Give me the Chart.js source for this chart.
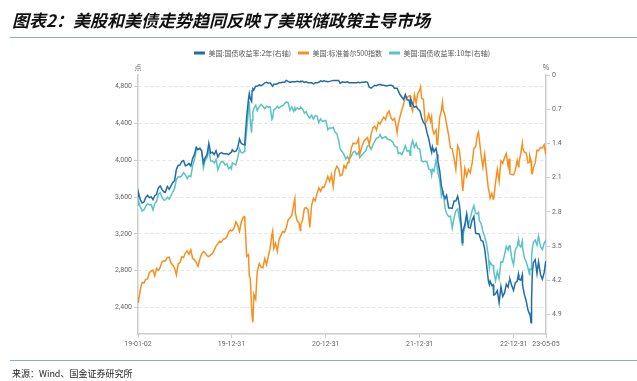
<!DOCTYPE html>
<html lang="zh">
<head>
<meta charset="utf-8">
<script src="https://cdn.jsdelivr.net/npm/chart.js@4.4.1/dist/chart.umd.min.js"></script>
<style>
  html, body { margin: 0; padding: 0; background: #fff; }
  body { width: 637px; height: 381px; position: relative; overflow: hidden; }
  #chart { position: absolute; left: 0; top: 0; }
  #title { position: absolute; left: 12px; top: 8px; font: italic bold 17px/24px "Noto Sans CJK SC", sans-serif; color: #111; white-space: nowrap; }
  .rule { position: absolute; left: 10px; right: 0; border-top: 1.5px solid #90adc3; }
  #rule-top    { top: 37px; }
  #rule-bottom { top: 360px; }
  #source { position: absolute; left: 12px; top: 367px; font: 9px/14px "Noto Sans CJK SC", sans-serif; color: #222; white-space: nowrap; }
</style>
</head>
<body>
<canvas id="chart" width="637" height="381"></canvas>
<div id="title">图表2：美股和美债走势趋同反映了美联储政策主导市场</div>
<div class="rule" id="rule-top"></div>
<div class="rule" id="rule-bottom"></div>
<div id="source">来源：Wind、国金证券研究所</div>

<script>
/* ─── DATA ────────────────────────────────────────────────── */
const dates = [
  // 2019
  '2019-01-02','2019-01-03','2019-01-11','2019-01-18','2019-01-25','2019-02-01','2019-02-08','2019-02-15','2019-02-22','2019-03-01',
  '2019-03-08','2019-03-15','2019-03-22','2019-03-29','2019-04-05','2019-04-12','2019-04-18','2019-04-26','2019-05-03','2019-05-10',
  '2019-05-17','2019-05-24','2019-05-31','2019-06-07','2019-06-14','2019-06-21','2019-06-28','2019-07-05','2019-07-12','2019-07-19',
  '2019-07-26','2019-08-02','2019-08-09','2019-08-16','2019-08-23','2019-08-30','2019-09-06','2019-09-13','2019-09-20','2019-09-27',
  '2019-10-04','2019-10-11','2019-10-18','2019-10-25','2019-11-01','2019-11-08','2019-11-15','2019-11-22','2019-11-29','2019-12-06',
  '2019-12-13','2019-12-20','2019-12-27','2019-12-31',
  // 2020
  '2020-01-03','2020-01-10','2020-01-17','2020-01-24','2020-01-31','2020-02-07','2020-02-14','2020-02-19','2020-02-21','2020-02-28',
  '2020-03-06','2020-03-09','2020-03-13','2020-03-18','2020-03-20','2020-03-23','2020-03-27','2020-04-03','2020-04-09','2020-04-17',
  '2020-04-24','2020-05-01','2020-05-08','2020-05-15','2020-05-22','2020-05-29','2020-06-05','2020-06-08','2020-06-12','2020-06-19',
  '2020-06-26','2020-07-02','2020-07-10','2020-07-17','2020-07-24','2020-07-31','2020-08-07','2020-08-14','2020-08-21','2020-08-28',
  '2020-09-02','2020-09-04','2020-09-11','2020-09-18','2020-09-23','2020-09-25','2020-10-02','2020-10-09','2020-10-16','2020-10-23',
  '2020-10-30','2020-11-06','2020-11-13','2020-11-20','2020-11-27','2020-12-04','2020-12-11','2020-12-18','2020-12-24','2020-12-31',
  // 2021
  '2021-01-08','2021-01-15','2021-01-22','2021-01-29','2021-02-05','2021-02-12','2021-02-19','2021-02-25','2021-03-05','2021-03-12',
  '2021-03-19','2021-03-26','2021-03-31','2021-04-09','2021-04-16','2021-04-23','2021-04-30','2021-05-07','2021-05-12','2021-05-21',
  '2021-05-28','2021-06-04','2021-06-11','2021-06-18','2021-06-25','2021-07-02','2021-07-09','2021-07-16','2021-07-23','2021-07-30',
  '2021-08-06','2021-08-13','2021-08-20','2021-08-27','2021-09-03','2021-09-10','2021-09-17','2021-09-24','2021-10-01','2021-10-04',
  '2021-10-08','2021-10-15','2021-10-22','2021-10-29','2021-11-05','2021-11-12','2021-11-19','2021-11-24','2021-11-26','2021-12-03',
  '2021-12-10','2021-12-17','2021-12-23','2021-12-31',
  // 2022
  '2022-01-03','2022-01-07','2022-01-14','2022-01-21','2022-01-28','2022-02-04','2022-02-11','2022-02-15','2022-02-18','2022-02-24',
  '2022-03-04','2022-03-08','2022-03-11','2022-03-18','2022-03-25','2022-03-29','2022-04-01','2022-04-08','2022-04-14','2022-04-22',
  '2022-04-29','2022-05-06','2022-05-13','2022-05-20','2022-05-27','2022-06-03','2022-06-10','2022-06-14','2022-06-16','2022-06-24',
  '2022-07-01','2022-07-08','2022-07-15','2022-07-22','2022-07-29','2022-08-05','2022-08-12','2022-08-16','2022-08-19','2022-08-26',
  '2022-09-02','2022-09-09','2022-09-16','2022-09-23','2022-09-27','2022-09-30','2022-10-07','2022-10-12','2022-10-14','2022-10-21',
  '2022-10-28','2022-11-04','2022-11-11','2022-11-18','2022-11-25','2022-12-02','2022-12-09','2022-12-13','2022-12-16','2022-12-23',
  '2022-12-30',
  // 2023
  '2023-01-06','2023-01-13','2023-01-18','2023-01-20','2023-01-27','2023-02-02','2023-02-03','2023-02-10','2023-02-17','2023-02-24',
  '2023-03-02','2023-03-03','2023-03-08','2023-03-10','2023-03-13','2023-03-17','2023-03-24','2023-03-31','2023-04-06','2023-04-14',
  '2023-04-21','2023-04-28','2023-05-04','2023-05-05',
];

// 美国:标准普尔500指数 (左轴, 点)
const spx = [
  2510,2448,2596,2671,2665,2707,2708,2776,2793,2804, 2743,2822,2800,2834,2893,2907,2905,2940,2946,2881,
  2860,2826,2752,2873,2887,2950,2942,2990,3014,2977, 3026,2932,2919,2889,2847,2926,2979,3007,2992,2962,
  2952,2970,2986,3023,3067,3093,3120,3110,3141,3146, 3169,3221,3240,3231,
  3235,3265,3330,3295,3226,3328,3380,3386,3338,2954, 2972,2747,2711,2399,2305,2237,2541,2489,2790,2875,
  2837,2831,2930,2864,2955,3044,3194,3232,3041,3098, 3009,3130,3185,3225,3216,3271,3351,3373,3397,3508,
  3580,3427,3341,3319,3237,3298,3348,3477,3484,3465, 3270,3510,3585,3558,3638,3699,3663,3709,3703,3756,
  3825,3768,3841,3714,3887,3934,3907,3829,3842,3943, 3913,3975,3973,4129,4185,4180,4181,4233,4063,4156,
  4204,4230,4247,4166,4281,4352,4370,4327,4412,4395, 4437,4468,4442,4509,4535,4459,4433,4455,4357,4300,
  4391,4471,4545,4605,4697,4683,4698,4701,4595,4538, 4712,4621,4725,4766,
  4797,4677,4663,4398,4432,4501,4419,4471,4349,4288, 4329,4171,4204,4463,4543,4632,4546,4488,4393,4272,
  4132,4123,4024,3901,4158,4109,3901,3735,3667,3912, 3825,3899,3863,3962,4130,4145,4280,4305,4228,4058,
  3924,4067,3873,3693,3647,3586,3640,3577,3583,3752, 3901,3771,3993,3965,4026,4072,3934,4019,3852,3845,
  3840,
  3895,3999,3929,3973,4071,4179,4136,4090,4079,3970, 3981,4046,3992,3862,3855,3917,3971,4109,4105,4138,
  4133,4169,4061,4136,
];

// 美国:国债收益率:2年 (右轴, %)
const ust2y = [
  2.49,2.39,2.55,2.62,2.60,2.51,2.46,2.51,2.49,2.55, 2.47,2.44,2.31,2.27,2.34,2.39,2.40,2.28,2.34,2.27,
  2.20,2.16,1.93,1.85,1.84,1.77,1.75,1.86,1.84,1.81, 1.86,1.71,1.63,1.48,1.53,1.50,1.55,1.80,1.69,1.63,
  1.40,1.60,1.58,1.63,1.55,1.68,1.61,1.59,1.61,1.61, 1.61,1.63,1.59,1.58,
  1.53,1.57,1.56,1.49,1.31,1.40,1.42,1.43,1.35,0.86, 0.49,0.38,0.49,0.54,0.32,0.28,0.30,0.23,0.23,0.20,
  0.22,0.20,0.16,0.15,0.17,0.16,0.21,0.23,0.19,0.19, 0.18,0.16,0.16,0.15,0.15,0.11,0.13,0.15,0.14,0.14,
  0.14,0.14,0.13,0.14,0.14,0.13,0.13,0.15,0.14,0.16, 0.16,0.16,0.18,0.16,0.16,0.15,0.12,0.13,0.12,0.13,
  0.14,0.13,0.12,0.11,0.11,0.11,0.11,0.17,0.14,0.15, 0.15,0.14,0.16,0.16,0.16,0.16,0.16,0.15,0.16,0.15,
  0.15,0.14,0.15,0.25,0.27,0.24,0.21,0.22,0.20,0.19, 0.21,0.21,0.22,0.22,0.21,0.21,0.22,0.27,0.27,0.27,
  0.32,0.40,0.45,0.50,0.40,0.51,0.51,0.64,0.50,0.59, 0.66,0.64,0.69,0.73,
  0.78,0.87,0.97,1.01,1.18,1.31,1.50,1.58,1.47,1.57, 1.50,1.62,1.75,1.95,2.27,2.36,2.44,2.53,2.46,2.72,
  2.72,2.73,2.58,2.58,2.48,2.66,3.06,3.43,3.20,3.06, 2.84,3.12,3.13,2.97,2.89,3.24,3.25,3.25,3.26,3.39,
  3.40,3.56,3.87,4.20,4.29,4.22,4.31,4.29,4.50,4.48, 4.41,4.66,4.33,4.53,4.46,4.28,4.34,4.22,4.18,4.31,
  4.41,
  4.25,4.22,4.08,4.18,4.20,4.09,4.30,4.49,4.62,4.81, 4.89,4.86,5.07,4.60,4.03,3.84,3.78,4.06,3.82,4.09,
  4.18,4.04,3.81,3.92,
];

// 美国:国债收益率:10年 (右轴, %)
const ust10y = [
  2.66,2.56,2.70,2.78,2.76,2.69,2.63,2.66,2.65,2.76, 2.63,2.59,2.44,2.41,2.50,2.56,2.56,2.50,2.54,2.47,
  2.39,2.32,2.14,2.08,2.09,2.06,2.00,2.04,2.12,2.06, 2.08,1.86,1.74,1.55,1.52,1.50,1.55,1.90,1.74,1.69,
  1.53,1.76,1.76,1.80,1.73,1.94,1.84,1.77,1.78,1.84, 1.82,1.92,1.88,1.92,
  1.80,1.82,1.84,1.70,1.51,1.59,1.59,1.56,1.47,1.13, 0.71,0.54,0.96,1.18,0.92,0.76,0.68,0.62,0.73,0.65,
  0.60,0.64,0.69,0.64,0.66,0.65,0.91,0.88,0.71,0.69, 0.64,0.68,0.64,0.63,0.59,0.55,0.57,0.72,0.65,0.74,
  0.67,0.72,0.67,0.70,0.68,0.66,0.70,0.78,0.75,0.84, 0.88,0.82,0.90,0.83,0.84,0.97,0.90,0.95,0.94,0.93,
  1.12,1.08,1.09,1.07,1.17,1.20,1.34,1.52,1.57,1.63, 1.72,1.67,1.74,1.66,1.58,1.56,1.63,1.58,1.69,1.63,
  1.59,1.55,1.45,1.44,1.52,1.43,1.36,1.29,1.28,1.22, 1.30,1.28,1.26,1.31,1.32,1.34,1.37,1.45,1.47,1.48,
  1.61,1.59,1.63,1.55,1.45,1.56,1.54,1.64,1.48,1.34, 1.48,1.40,1.50,1.52,
  1.63,1.76,1.78,1.76,1.78,1.93,1.94,2.05,1.93,1.97, 1.74,1.86,2.00,2.14,2.48,2.41,2.39,2.72,2.83,2.90,
  2.89,3.13,2.93,2.78,2.74,2.94,3.15,3.48,3.28,3.13, 2.88,3.08,2.93,2.78,2.67,2.83,2.84,2.81,2.98,3.04,
  3.20,3.31,3.45,3.69,3.95,3.83,3.89,3.90,4.02,4.21, 4.02,4.17,3.82,3.83,3.68,3.51,3.58,3.50,3.48,3.75,
  3.88,
  3.57,3.51,3.37,3.48,3.52,3.40,3.53,3.74,3.82,3.95, 4.08,3.97,3.98,3.70,3.55,3.43,3.38,3.48,3.29,3.52,
  3.57,3.44,3.39,3.44,
];

const seriesNames = ['美国:国债收益率:2年(右轴)', '美国:标准普尔500指数', '美国:国债收益率:10年(右轴)'];
const xTickDates  = ['2019-01-02', '2019-12-31', '2020-12-31', '2021-12-31', '2022-12-31', '2023-05-05'];
const xTickLabels = ['19-01-02', '19-12-31', '20-12-31', '21-12-31', '22-12-31', '23-05-05'];
const leftTicks   = [2400, 2800, 3200, 3600, 4000, 4400, 4800];
const rightTicks  = [0, 0.7, 1.4, 2.1, 2.8, 3.5, 4.2, 4.9];
const axisUnits   = { left: '点', right: '%' };

/* ─── HELPERS ─────────────────────────────────────────────── */
const DAY0   = Date.parse(dates[0]);
const dayNum = d => (Date.parse(d) - DAY0) / 864e5;
const pts    = vals => vals.map((v, i) => ({ x: dayNum(dates[i]), y: v }));

const AXIS_FONT  = { family: 'Roboto, sans-serif', size: 7 };
const AXIS_COLOR = '#666';
const AXIS_LINE  = '#cdcdcd';

function line(label, vals, color, axis) {
  return {
    label, data: pts(vals), yAxisID: axis,
    borderColor: color, backgroundColor: color,
    borderWidth: 1.5, pointRadius: 0, tension: 0,
  };
}

// unit captions above each y axis
const unitLabels = {
  id: 'unitLabels',
  afterDraw(chart) {
    const { ctx, chartArea: a } = chart;
    ctx.save();
    ctx.font = '7px "Noto Sans CJK SC", sans-serif';
    ctx.fillStyle = AXIS_COLOR;
    ctx.textAlign = 'center';
    ctx.textBaseline = 'middle';
    ctx.fillText(axisUnits.left,  a.left,  a.top - 8);
    ctx.fillText(axisUnits.right, a.right, a.top - 8);
    ctx.restore();
  },
};

/* ─── CHART ───────────────────────────────────────────────── */
new Chart(document.getElementById('chart'), {
  type: 'line',
  data: {
    datasets: [
      line(seriesNames[0], ust2y,  '#1f6ea7', 'yR'),
      line(seriesNames[1], spx,    '#f7901e', 'yL'),
      line(seriesNames[2], ust10y, '#5cc3c4', 'yR'),
    ],
  },
  options: {
    responsive: false,
    animation: false,
    devicePixelRatio: 1,
    layout: { padding: { top: 42.5, left: 0, right: 0, bottom: 0 } },
    plugins: {
      legend: {
        fullSize: false,
        labels: {
          boxWidth: 11, boxHeight: 3, padding: 7, color: '#555',
          font: { family: '"Noto Sans CJK SC", sans-serif', size: 7 },
          generateLabels: c => Chart.defaults.plugins.legend.labels.generateLabels(c)
            .map(l => ({ ...l, lineWidth: 0 })),
        },
      },
      // empty spacer between legend and plot
      subtitle: { display: true, text: '', weight: 500, font: { size: 1 }, padding: { top: 7.3, bottom: 0 } },
      tooltip: { enabled: false },
    },
    scales: {
      x: {
        type: 'linear',
        min: 0,
        max: dayNum(xTickDates[xTickDates.length - 1]),
        afterBuildTicks: s => { s.ticks = xTickDates.map(d => ({ value: dayNum(d) })); },
        afterFit: s => { s.height = 47; },
        ticks: {
          autoSkip: false, maxRotation: 0, minRotation: 0, padding: 2,
          color: AXIS_COLOR, font: AXIS_FONT,
          callback: (v, i) => xTickLabels[i],
        },
        grid: { drawOnChartArea: false, tickLength: 4, color: AXIS_LINE },
        border: { color: AXIS_LINE, width: 1.5 },
      },
      yL: {
        position: 'left',
        min: 2110,
        max: 4927,
        afterBuildTicks: s => { s.ticks = leftTicks.map(v => ({ value: v })); },
        afterFit: s => { s.width = 138; },
        ticks: {
          padding: 2, color: AXIS_COLOR, font: AXIS_FONT,
          callback: v => v.toLocaleString('en-US'),
        },
        grid: { color: '#e4e4e4', tickColor: AXIS_LINE, tickLength: 4 },
        border: { color: AXIS_LINE, width: 1.5, dash: [3, 3] },
      },
      yR: {
        position: 'right',
        reverse: true,
        min: 0,
        max: 5.3,
        afterBuildTicks: s => { s.ticks = rightTicks.map(v => ({ value: v })); },
        afterFit: s => { s.width = 91; },
        ticks: {
          padding: 2, color: AXIS_COLOR, font: AXIS_FONT,
          callback: v => String(+v.toFixed(1)),
        },
        grid: { drawOnChartArea: false, tickLength: 4, color: AXIS_LINE },
        border: { color: AXIS_LINE, width: 1.5 },
      },
    },
  },
  plugins: [unitLabels],
});
</script>
</body>
</html>
